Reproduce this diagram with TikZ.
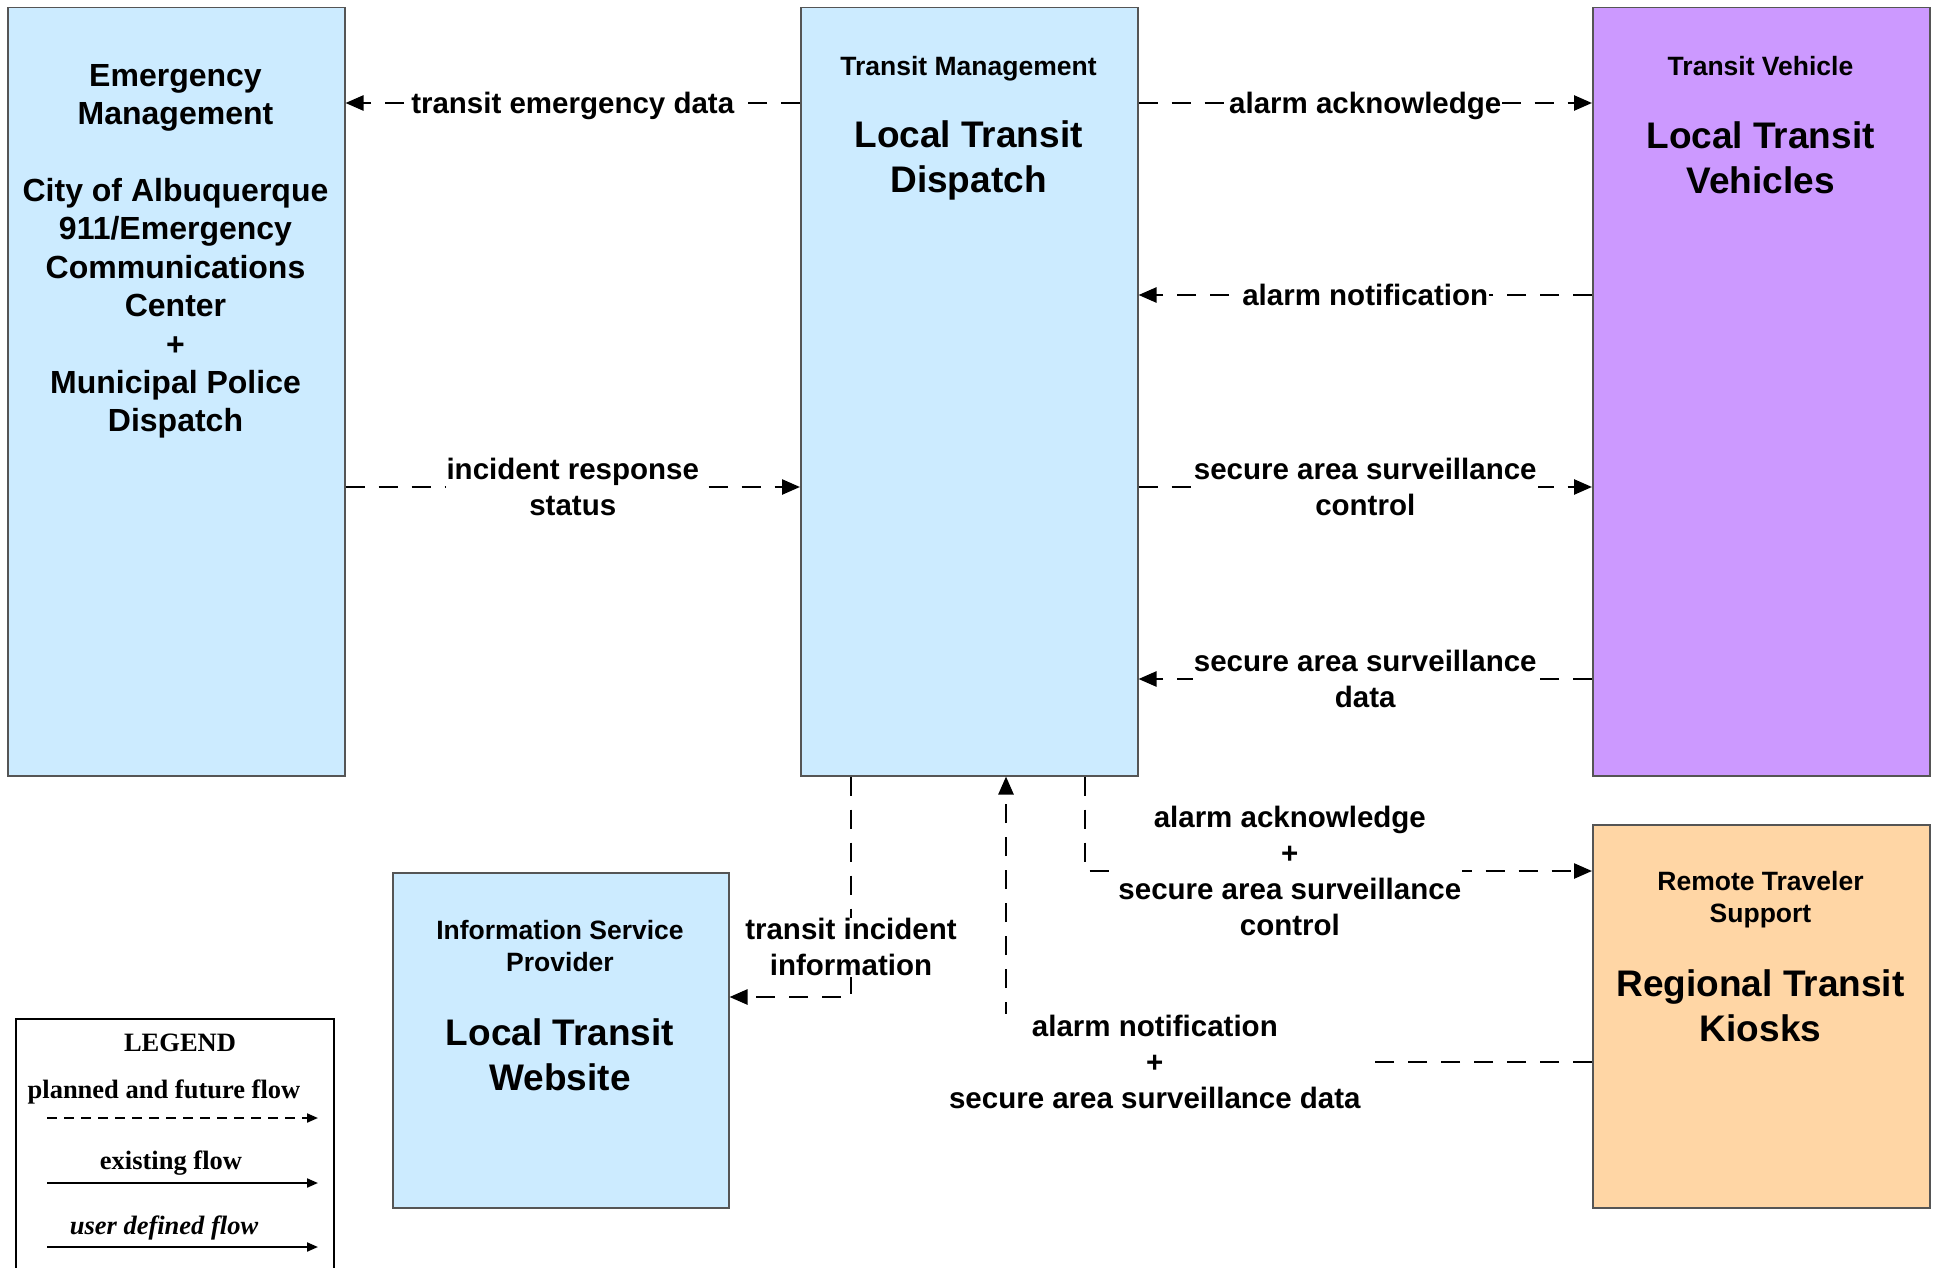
\documentclass[tikz,border=0pt]{standalone}
\usepackage{fontspec}
\setmainfont{Liberation Sans}
\newfontfamily\tnr{Liberation Serif}
\usetikzlibrary{arrows.meta}
\definecolor{boxblue}{RGB}{204,235,255}
\definecolor{boxpurple}{RGB}{204,153,255}
\definecolor{boxpeach}{RGB}{255,214,165}
\definecolor{edgegray}{RGB}{85,85,85}
\tikzset{
 box/.style={draw=edgegray, line width=1.5pt, anchor=north west, inner sep=0pt},
 flow/.style={line width=2.5pt, dash pattern=on 19pt off 14pt, -{Triangle[length=18pt,width=15pt]}},
 lbl/.style={fill=white, inner sep=1pt, align=center, font=\fontsize{29.5}{36}\selectfont\bfseries},
 hdr/.style={align=center, font=\fontsize{26.5}{32}\selectfont\bfseries},
 ttl/.style={align=center, font=\fontsize{37}{44.5}\selectfont\bfseries},
 emtxt/.style={align=center, font=\fontsize{32}{38.4}\selectfont\bfseries},
 legtxt/.style={font=\tnr\fontsize{26.5}{31}\selectfont\bfseries},
 legflow/.style={line width=2pt, -{Triangle[length=11pt,width=9pt]}},
}
\begin{document}
\begin{tikzpicture}[x=1pt,y=-1pt]
\fill[white] (0,0) rectangle (1935,1268);
\useasboundingbox (0,0) rectangle (1935,1268);

% boxes
\node[box, fill=boxblue, minimum width=337pt, minimum height=768pt] (em) at (7,7) {};
\node[box, fill=boxblue, minimum width=337pt, minimum height=768pt] (tm) at (800,7) {};
\node[box, fill=boxpurple, minimum width=337pt, minimum height=768pt] (tv) at (1592,7) {};
\node[box, fill=boxblue, minimum width=336pt, minimum height=335pt] (isp) at (392,872) {};
\node[box, fill=boxpeach, minimum width=337pt, minimum height=383pt] (rts) at (1592,824) {};
\node[box, draw=black, fill=white, minimum width=318pt, minimum height=280pt] (leg) at (15,1018) {};

% box texts
\node[emtxt] (emt) at (175.5,251.5) {Emergency\\Management\\[38.4pt]City of Albuquerque\\911/Emergency\\Communications\\Center\\+\\Municipal Police\\Dispatch};
\node[hdr] (tmh) at (968.5,69) {Transit Management};
\node[ttl] (tmt) at (968.5,160.5) {Local Transit\\Dispatch};
\node[hdr] (tvh) at (1760.5,66.5) {Transit Vehicle};
\node[ttl] (tvt) at (1760.5,158) {Local Transit\\Vehicles};
\node[hdr] (isph) at (560,946) {Information Service\\Provider};
\node[ttl] (ispt) at (560,1055) {Local Transit\\Website};
\node[hdr] (rtsh) at (1760.5,900) {Remote Traveler\\Support};
\node[ttl] (rtst) at (1760.5,1006) {Regional Transit\\Kiosks};

% level coordinates
\coordinate (r1) at (0,103);
\coordinate (r2) at (0,295);
\coordinate (r3) at (0,487);
\coordinate (r4) at (0,679);
\coordinate (c7) at (851,997);
\coordinate (c8) at (1085,871);
\coordinate (c9) at (1006,1062);

% flows
\draw[flow] (tm.west |- r1) -- node[lbl, yshift=-3pt]{transit emergency data} (em.east |- r1);
\draw[flow] (em.east |- r3) -- node[lbl]{incident response\\status} (tm.west |- r3);
\draw[flow] (tm.east |- r1) -- node[lbl, yshift=-3pt]{alarm acknowledge} (tv.west |- r1);
\draw[flow] (tv.west |- r2) -- node[lbl]{alarm notification} (tm.east |- r2);
\draw[flow] (tm.east |- r3) -- node[lbl]{secure area surveillance\\control} (tv.west |- r3);
\draw[flow] (tv.west |- r4) -- node[lbl]{secure area surveillance\\data} (tm.east |- r4);
\draw[flow] (tm.south -| c7) -- node[lbl, pos=0.775]{transit incident\\information} (c7) -- (isp.east |- c7);
\draw[flow] (tm.south -| c8) -- (c8) -- node[lbl, pos=0.404]{alarm acknowledge\\+\\secure area surveillance\\control} (rts.west |- c8);
\draw[flow] (rts.west |- c9) -- node[lbl, pos=0.746]{alarm notification\\+\\secure area surveillance data} (c9) -- (tm.south -| c9);

% legend
\node[legtxt] (legh) at (180,1043) {LEGEND};
\node[legtxt] (leg1) at (164,1092) {planned and future flow};
\node[legtxt] (leg2) at (171,1163) {existing flow};
\node[legtxt, font=\tnr\fontsize{26.5}{31}\selectfont\bfseries\itshape] (leg3) at (164,1228) {user defined flow};
\coordinate (la1) at (47,1118);
\coordinate (lb1) at (318,1118);
\coordinate (la2) at (47,1183);
\coordinate (lb2) at (318,1183);
\coordinate (la3) at (47,1247);
\coordinate (lb3) at (318,1247);
\draw[legflow, dash pattern=on 10pt off 7pt] (la1) -- (lb1);
\draw[legflow] (la2) -- (lb2);
\draw[legflow] (la3) -- (lb3);
\end{tikzpicture}
\end{document}
